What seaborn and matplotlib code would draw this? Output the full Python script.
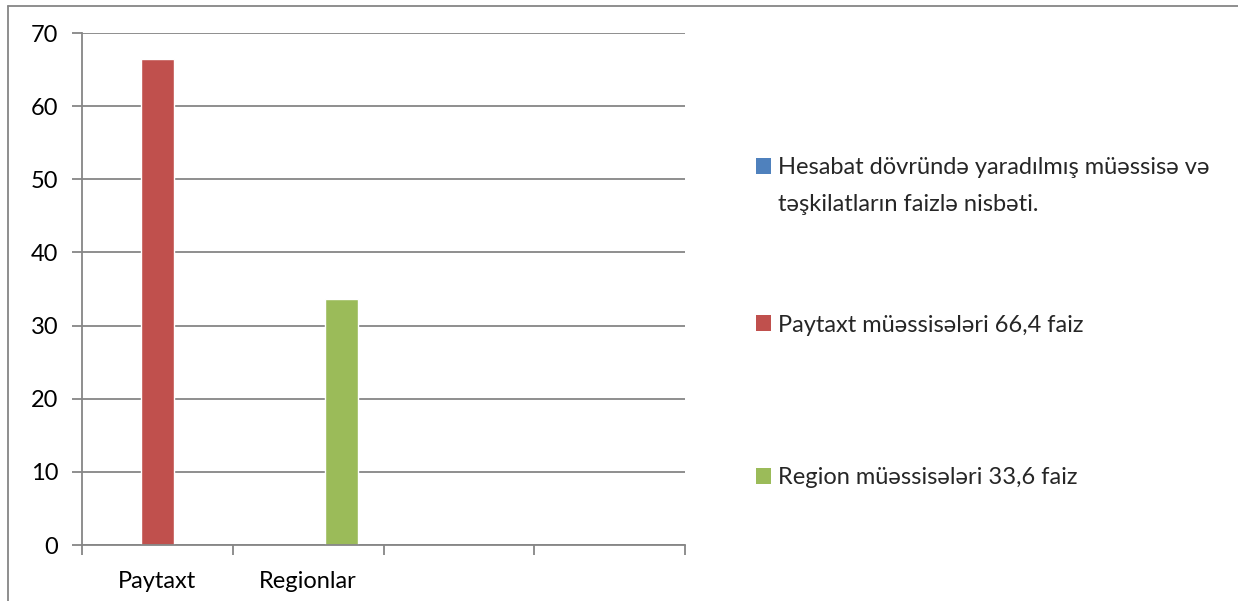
import numpy as np
import pandas as pd
import matplotlib
matplotlib.use("Agg")
import matplotlib.pyplot as plt
from matplotlib.patches import Patch
import seaborn as sns

# data
categories = ["Paytaxt", "Regionlar", "", " "]
series = ["Hesabat dövründə yaradılmış müəssisə və\ntəşkilatların faizlə nisbəti.",
          "Paytaxt müəssisələri 66,4 faiz",
          "Region müəssisələri 33,6 faiz"]
hesabat = [np.nan, np.nan, np.nan, np.nan]
paytaxt = [66.4, np.nan, np.nan, np.nan]
region = [np.nan, 33.6, np.nan, np.nan]
colors = ["#4F81BD", "#C0504D", "#9BBB59"]

rows = []
for s, vals in zip(series, [hesabat, paytaxt, region]):
    for c, v in zip(categories, vals):
        rows.append({"kat": c, "seriya": s, "faiz": v})
df = pd.DataFrame(rows)

sns.set_theme(style="white")
plt.rcParams['font.family'] = ['Lato', 'Open Sans', 'DejaVu Sans']
grid_col = "#868686"
fs = 17

fig = plt.figure(figsize=(12.38, 6.01), dpi=100)
W, H = 1238, 601
ax = fig.add_axes([82 / W, (H - 545) / H, 603 / W, 512 / H])

sns.barplot(data=df.dropna(), x="kat", y="faiz", hue="seriya",
            order=categories, hue_order=series, palette=colors,
            width=0.667, dodge=True, saturation=1, legend=False, ax=ax)

ax.set_ylim(0, 70)
ax.set_xlim(-0.5, 3.5)
ax.set_yticks(np.arange(0, 71, 10))
ax.yaxis.grid(True, color=grid_col, linewidth=1.3)
ax.set_axisbelow(True)

# category boundary ticks, labels centered in categories
ax.set_xticks(np.arange(-0.5, 4.0, 1.0))
ax.set_xticklabels([])
ax.set_xticks(range(len(categories)), minor=True)
ax.set_xticklabels(categories, minor=True, fontsize=fs, color="black")
ax.tick_params(axis="x", which="major", length=7, width=1.3, color=grid_col, direction="out", bottom=True)
ax.tick_params(axis="x", which="minor", length=0, pad=19)
ax.tick_params(axis="y", length=7, width=1.3, color=grid_col, direction="out", left=True,
               labelsize=fs, labelcolor="black", pad=10)
ax.set_xlabel("")
ax.set_ylabel("")

for side in ["top", "right"]:
    ax.spines[side].set_visible(False)
for side in ["left", "bottom"]:
    ax.spines[side].set_color(grid_col)
    ax.spines[side].set_linewidth(1.3)

# legend entries spread down the right side like the Excel legend
line1, line2 = series[0].split("\n")
entries = [
    (Patch(facecolor=colors[0], edgecolor="none"), line1, 168),
    (Patch(facecolor="none", edgecolor="none"), line2, 205),
    (Patch(facecolor=colors[1], edgecolor="none"), series[1], 325),
    (Patch(facecolor=colors[2], edgecolor="none"), series[2], 478),
]
for h, lab, y in entries:
    fig.legend([h], [lab], loc="center left", bbox_to_anchor=(756 / W, 1 - y / H),
               frameon=False, fontsize=fs, handlelength=0.65, handleheight=0.65,
               handletextpad=0.3, borderpad=0, borderaxespad=0)

# outer chart border
fig.add_artist(plt.Line2D([8 / W, 8 / W], [0, 1 - 6 / H], color=grid_col, linewidth=1.3))
fig.add_artist(plt.Line2D([8 / W, 1], [1 - 6 / H, 1 - 6 / H], color=grid_col, linewidth=1.3))

fig.savefig("out.png", dpi=100)
